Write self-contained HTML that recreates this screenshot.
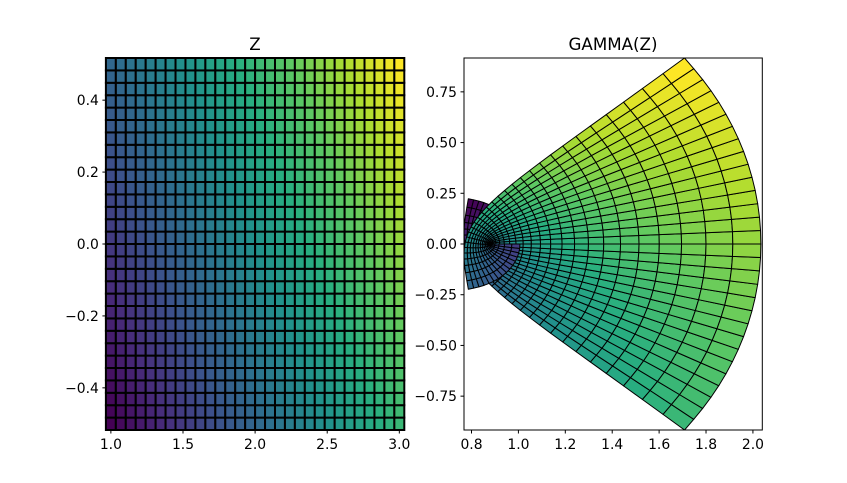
<!DOCTYPE html>
<html><head><meta charset="utf-8"><style>
html,body{margin:0;padding:0;background:#fff}
svg{display:block}
text{font-family:"DejaVu Sans","Liberation Sans",sans-serif;font-size:13.9px;fill:#000}
</style></head><body>
<svg id="s" width="847" height="483" xmlns="http://www.w3.org/2000/svg">
<text x="255" y="50" text-anchor="middle" style="font-size:16.7px">Z</text>
<text x="613" y="50" text-anchor="middle" style="font-size:16.7px">GAMMA(Z)</text>
</svg>
<script>
var S=document.getElementById('s');var out='';
var VC=[[68,1,84],[71,45,123],[59,82,139],[44,114,142],[33,145,140],[40,174,128],[94,201,98],[173,220,48],[253,231,37]];
function vir(t){t=Math.max(0,Math.min(1,t))*8;var i=Math.min(7,Math.floor(t)),f=t-i,a=VC[i],b=VC[i+1];
return 'rgb('+[0,1,2].map(function(k){return Math.round(a[k]+(b[k]-a[k])*f)}).join(',')+')';}
function mul(a,b){return [a[0]*b[0]-a[1]*b[1],a[0]*b[1]+a[1]*b[0]];}
function div(a,b){var d=b[0]*b[0]+b[1]*b[1];return [(a[0]*b[0]+a[1]*b[1])/d,(a[1]*b[0]-a[0]*b[1])/d];}
function cexp(a){var e=Math.exp(a[0]);return [e*Math.cos(a[1]),e*Math.sin(a[1])];}
function clog(a){return [Math.log(Math.hypot(a[0],a[1])),Math.atan2(a[1],a[0])];}
var G=7,P=[0.99999999999980993,676.5203681218851,-1259.1392167224028,771.32342877765313,-176.61502916214059,12.507343278686905,-0.13857109526572012,9.9843695780195716e-6,1.5056327351493116e-7];
function gamma(z){z=[z[0]-1,z[1]];var x=[P[0],0];for(var i=1;i<9;i++){var t=div([P[i],0],[z[0]+i,z[1]]);x[0]+=t[0];x[1]+=t[1];}
var t=[z[0]+G+0.5,z[1]];var lt=clog(t);var pw=cexp(mul([z[0]+0.5,z[1]],lt));
var r=mul(mul([Math.sqrt(2*Math.PI),0],pw),cexp([-t[0],-t[1]]));return mul(r,x);}
var N=30,h=2/29,hy=1/29;
var xe=[],ye=[];for(var i=0;i<=N;i++){xe.push(1-h/2+i*h);ye.push(-0.5-hy/2+i*hy);}
function col(i,j){var x=1+i*h,y=-0.5+j*hy;return vir((x+y-0.5)/3);}
var L=105.9,R=404.3,T=58,B=430,L2=464,R2=762.3;
var x0=xe[0],x1=xe[N],y0=ye[0],y1=ye[N];
function px(v){return L+(v-x0)/(x1-x0)*(R-L);}function py(v){return B-(v-y0)/(y1-y0)*(B-T);}
for(var j=0;j<N;j++)for(var i=0;i<N;i++){
out+='<rect x="'+px(xe[i])+'" y="'+py(ye[j+1])+'" width="'+(px(xe[i+1])-px(xe[i]))+'" height="'+(py(ye[j])-py(ye[j+1]))+'" fill="'+col(i,j)+'" stroke="#000" stroke-width="2"/>';}
out+='<rect x="'+L+'" y="'+T+'" width="'+(R-L)+'" height="'+(B-T)+'" fill="none" stroke="#000" stroke-width="1"/>';
[1,1.5,2,2.5,3].forEach(function(v){var X=px(v);out+='<line x1="'+X+'" x2="'+X+'" y1="'+B+'" y2="'+(B+3.5)+'" stroke="#000"/><text x="'+X+'" y="'+(B+19)+'" text-anchor="middle">'+v.toFixed(1)+'</text>';});
[-0.4,-0.2,0,0.2,0.4].forEach(function(v){var Y=py(v);out+='<line x1="'+L+'" x2="'+(L-3.5)+'" y1="'+Y+'" y2="'+Y+'" stroke="#000"/><text x="'+(L-7)+'" y="'+(Y+5)+'" text-anchor="end">'+(v==0?'0.0':v.toFixed(1).replace('-','\u2212'))+'</text>';});
var c=[];for(var j=0;j<N;j++){c[j]=[];for(var i=0;i<N;i++){c[j][i]=gamma([1+i*h,-0.5+j*hy]);}}
function interpRow(a){var n=a.length,o=[];o.push([a[0][0]-(a[1][0]-a[0][0])/2,a[0][1]-(a[1][1]-a[0][1])/2]);
for(var k=0;k<n-1;k++)o.push([(a[k][0]+a[k+1][0])/2,(a[k][1]+a[k+1][1])/2]);
o.push([a[n-1][0]+(a[n-1][0]-a[n-2][0])/2,a[n-1][1]+(a[n-1][1]-a[n-2][1])/2]);return o;}
var r1=c.map(interpRow);
var g=[];for(var j=0;j<=N;j++)g.push([]);
for(var i=0;i<=N;i++){var colv=r1.map(function(r){return r[i];});var e=interpRow(colv);for(var j=0;j<=N;j++)g[j][i]=e[j];}
var dx0=1e9,dx1=-1e9,gy0=1e9,gy1=-1e9;
for(var j=0;j<=N;j++)for(var i=0;i<=N;i++){var v=g[j][i];dx0=Math.min(dx0,v[0]);dx1=Math.max(dx1,v[0]);gy0=Math.min(gy0,v[1]);gy1=Math.max(gy1,v[1]);}
var gx0=0.768,gx1=2.040,tmax=2.034;
function sx(v){return gx0+(v-dx0)*(tmax-gx0)/(dx1-dx0);}
function qx(v){return L2+(v-gx0)/(gx1-gx0)*(R2-L2);}function qy(v){return B-(v-gy0)/(gy1-gy0)*(B-T);}
out+='<defs><clipPath id="c"><rect x="'+L2+'" y="'+T+'" width="'+(R2-L2)+'" height="'+(B-T)+'"/></clipPath></defs><g clip-path="url(#c)">';
for(var j=0;j<N;j++)for(var i=0;i<N;i++){var pts=[g[j][i],g[j][i+1],g[j+1][i+1],g[j+1][i]];
out+='<polygon points="'+pts.map(function(p){return qx(sx(p[0])).toFixed(2)+','+qy(p[1]).toFixed(2)}).join(' ')+'" fill="'+col(i,j)+'" stroke="#000" stroke-width="1" stroke-linejoin="round"/>';}
out+='</g><rect x="'+L2+'" y="'+T+'" width="'+(R2-L2)+'" height="'+(B-T)+'" fill="none" stroke="#000" stroke-width="1"/>';
[0.8,1.0,1.2,1.4,1.6,1.8,2.0].forEach(function(v){var X=qx(v);out+='<line x1="'+X+'" x2="'+X+'" y1="'+B+'" y2="'+(B+3.5)+'" stroke="#000"/><text x="'+X+'" y="'+(B+19)+'" text-anchor="middle">'+v.toFixed(1)+'</text>';});
[-0.75,-0.5,-0.25,0,0.25,0.5,0.75].forEach(function(v){var Y=qy(v);out+='<line x1="'+L2+'" x2="'+(L2-3.5)+'" y1="'+Y+'" y2="'+Y+'" stroke="#000"/><text x="'+(L2-7)+'" y="'+(Y+5)+'" text-anchor="end">'+v.toFixed(2).replace('-','\u2212')+'</text>';});
S.insertAdjacentHTML('beforeend',out);
</script>
</body></html>
